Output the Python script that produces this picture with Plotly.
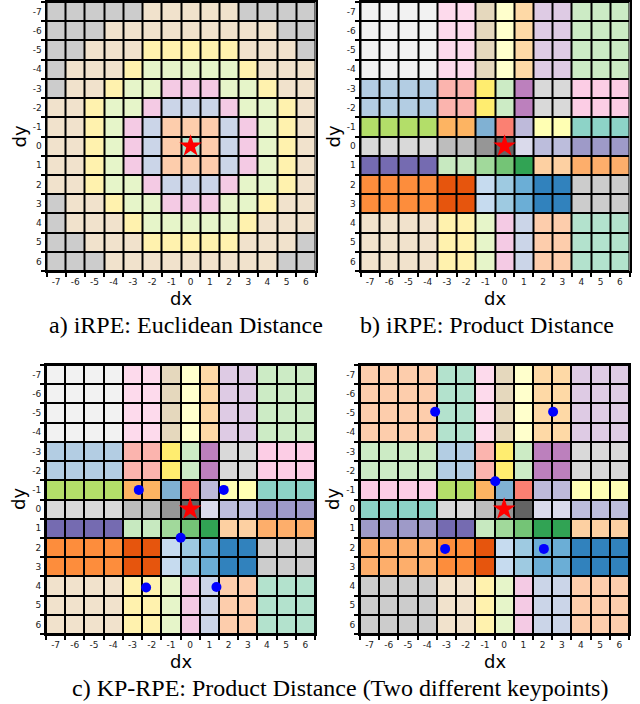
import plotly.graph_objects as go

# ---------------- data ----------------
dx = list(range(-7, 7))
dy = list(range(-7, 7))
tick_labels = [str(v) for v in dx]

# Euclidean distance buckets (panel a), rows dy=-7..6, cols dx=-7..6
euclid_levels = [
    [7, 7, 7, 7, 7, 6, 6, 6, 6, 6, 7, 7, 7, 7],
    [7, 7, 7, 6, 6, 6, 6, 6, 6, 6, 6, 6, 7, 7],
    [7, 7, 6, 6, 6, 5, 5, 5, 5, 5, 6, 6, 6, 7],
    [7, 6, 6, 6, 5, 4, 4, 4, 4, 4, 5, 6, 6, 6],
    [7, 6, 6, 5, 4, 4, 3, 3, 3, 4, 4, 5, 6, 6],
    [6, 6, 5, 4, 4, 3, 2, 2, 2, 3, 4, 4, 5, 6],
    [6, 6, 5, 4, 3, 2, 1, 1, 1, 2, 3, 4, 5, 6],
    [6, 6, 5, 4, 3, 2, 1, 0, 1, 2, 3, 4, 5, 6],
    [6, 6, 5, 4, 3, 2, 1, 1, 1, 2, 3, 4, 5, 6],
    [6, 6, 5, 4, 4, 3, 2, 2, 2, 3, 4, 4, 5, 6],
    [7, 6, 6, 5, 4, 4, 3, 3, 3, 4, 4, 5, 6, 6],
    [7, 6, 6, 6, 5, 4, 4, 4, 4, 4, 5, 6, 6, 6],
    [7, 7, 6, 6, 6, 5, 5, 5, 5, 5, 6, 6, 6, 7],
    [7, 7, 7, 6, 6, 6, 6, 6, 6, 6, 6, 6, 7, 7],
]

# product-distance bins along each axis (dx/dy = -7..6)
x_bin = [0, 0, 0, 0, 1, 1, 2, 3, 4, 5, 5, 6, 6, 6]
y_bin = [0, 0, 0, 0, 1, 1, 2, 3, 4, 5, 5, 6, 6, 6]

# bucket ids for each (y bin, x bin) pair
bucket_product = [
    [0, 1, 2, 3, 4, 5, 6],
    [7, 8, 9, 10, 11, 12, 13],
    [14, 15, 16, 17, 18, 19, 20],
    [21, 22, 23, 24, 25, 26, 27],
    [28, 29, 30, 31, 32, 33, 34],
    [35, 36, 37, 38, 39, 40, 41],
    [42, 43, 44, 45, 46, 47, 48],
]
bucket_kp = [
    [47, 48, 1, 2, 3, 4, 5],
    [6, 7, 8, 9, 10, 11, 12],
    [13, 14, 15, 16, 17, 18, 19],
    [20, 21, 22, 23, 24, 25, 26],
    [27, 28, 29, 30, 31, 32, 33],
    [34, 35, 36, 37, 38, 39, 40],
    [41, 42, 43, 44, 45, 46, 47],
]

# query point and keypoints
star_x, star_y = [0], [0]
kp_c_x = [-2.67, 1.75, -0.49, -2.29, 1.37]
kp_c_y = [-1.0, -1.0, 1.49, 4.08, 4.05]
kp_d_x = [-3.59, 2.55, -0.46, -3.07, 2.07]
kp_d_y = [-5.07, -5.07, -1.45, 2.07, 2.07]

captions = ["a) iRPE: Euclidean Distance", "b) iRPE: Product Distance",
            "c) KP-RPE: Product Distance (Two different keypoints)"]

# ---------------- colours ----------------
pastel1 = ["#fbb4ae", "#b3cde3", "#ccebc5", "#decbe4", "#fed9a6", "#ffffcc",
           "#e5d8bd", "#fddaec", "#f2f2f2"]
set3 = ["#8dd3c7", "#ffffb3", "#bebada", "#fb8072", "#80b1d3", "#fdb462",
        "#b3de69", "#fccde5", "#d9d9d9", "#bc80bd", "#ccebc5", "#ffed6f"]
tab20c = ["#3182bd", "#6baed6", "#9ecae1", "#c6dbef", "#e6550d", "#fd8d3c",
          "#fdae6b", "#fdd0a2", "#31a354", "#74c476", "#a1d99b", "#c7e9c0",
          "#756bb1", "#9e9ac8", "#bcbddc", "#dadaeb", "#636363", "#969696",
          "#bdbdbd", "#d9d9d9"]
pastel2 = ["#b3e2cd", "#fdcdac", "#cbd5e8", "#f4cae4", "#e6f5c9", "#fff2ae",
           "#f1e2cc", "#cccccc"]
palette = pastel1[::-1] + set3[::-1] + tab20c[::-1] + pastel2[::-1]
N = len(palette)
colorscale = []
for i, c in enumerate(palette):
    colorscale.append([i / N, c])
    colorscale.append([(i + 1) / N, c])

# ---------------- build z ----------------
z_a = [[N - 1 - lv for lv in row] for row in euclid_levels]
z_b = [[bucket_product[y_bin[i]][x_bin[j]] for j in range(len(dx))] for i in range(len(dy))]
z_d = [[bucket_kp[y_bin[i]][x_bin[j]] for j in range(len(dx))] for i in range(len(dy))]

W, H = 640, 704
panels = [
    dict(z=z_a, x0=46.5, x1=315.5, y0=2, y1=271, kp=None),
    dict(z=z_b, x0=360.5, x1=629.5, y0=2, y1=271, kp=None),
    dict(z=z_b, x0=46, x1=315, y0=365, y1=634, kp=(kp_c_x, kp_c_y)),
    dict(z=z_d, x0=360, x1=629, y0=365, y1=634, kp=(kp_d_x, kp_d_y)),
]

fig = go.Figure()
tick_font = dict(family="DejaVu Sans", size=9, color="#222")
annotations = []
for k, p in enumerate(panels):
    n = "" if k == 0 else str(k + 1)
    xa, ya = "x" + n, "y" + n
    fig.add_trace(go.Heatmap(x=dx, y=dy, z=p["z"], colorscale=colorscale,
                             zmin=-0.5, zmax=N - 0.5, showscale=False,
                             xgap=2, ygap=2, xaxis=xa, yaxis=ya,
                             hoverinfo="skip"))
    if p["kp"] is not None:
        fig.add_trace(go.Scatter(x=p["kp"][0], y=p["kp"][1], mode="markers",
                                 marker=dict(color="#0000ff", size=10),
                                 xaxis=xa, yaxis=ya, showlegend=False))
    fig.add_trace(go.Scatter(x=star_x, y=star_y, mode="markers",
                             marker=dict(symbol="star", color="#ff0000", size=17,
                                         line=dict(width=0)),
                             xaxis=xa, yaxis=ya, showlegend=False))
    common = dict(showline=True, mirror=True, linecolor="black", linewidth=2,
                  showgrid=False, zeroline=False, tickmode="array",
                  tickvals=dx, ticktext=tick_labels, ticks="outside", ticklen=1,
                  tickcolor="rgba(0,0,0,0)", tickfont=tick_font,
                  minor=dict(tickmode="array",
                             tickvals=[v - 0.5 for v in dx] + [dx[-1] + 0.5],
                             ticks="outside", ticklen=4, tickwidth=1.5,
                             tickcolor="black", showgrid=False))
    fig.layout["xaxis" + n] = dict(domain=[p["x0"] / W, p["x1"] / W],
                                   range=[-7.5, 6.5], anchor=ya, **common)
    fig.layout["yaxis" + n] = dict(domain=[1 - p["y1"] / H, 1 - p["y0"] / H],
                                   range=[6.5, -7.5], anchor=xa, **common)
    cx = (p["x0"] + p["x1"]) / 2
    cy = (p["y0"] + p["y1"]) / 2
    annotations.append(dict(text="dx", x=cx / W, y=1 - (p["y1"] + 27) / H,
                            xref="paper", yref="paper", showarrow=False,
                            xanchor="center", yanchor="middle",
                            font=dict(family="DejaVu Sans", size=18, color="black")))
    annotations.append(dict(text="dy", x=(p["x0"] - 27.5) / W, y=1 - cy / H,
                            xref="paper", yref="paper", showarrow=False,
                            textangle=-90, xanchor="center", yanchor="middle",
                            font=dict(family="DejaVu Sans", size=18, color="black")))

cap_font = dict(family="Liberation Serif", size=24, color="black")
annotations.append(dict(text=captions[0], x=186 / W, y=1 - 325 / H, xref="paper",
                        yref="paper", showarrow=False, xanchor="center",
                        yanchor="middle", font=cap_font))
annotations.append(dict(text=captions[1], x=487 / W, y=1 - 325 / H, xref="paper",
                        yref="paper", showarrow=False, xanchor="center",
                        yanchor="middle", font=cap_font))
annotations.append(dict(text=captions[2], x=340 / W, y=1 - 688 / H, xref="paper",
                        yref="paper", showarrow=False, xanchor="center",
                        yanchor="middle", font=cap_font))

fig.update_layout(width=W, height=H, margin=dict(l=0, r=0, t=0, b=0),
                  plot_bgcolor="black", paper_bgcolor="white",
                  showlegend=False, annotations=annotations)

fig.write_html("out.html", config={"displayModeBar": False},
               post_script="document.body.style.margin='0px';"
                           "document.body.style.padding='0px';"
                           "document.body.style.overflow='hidden';")
